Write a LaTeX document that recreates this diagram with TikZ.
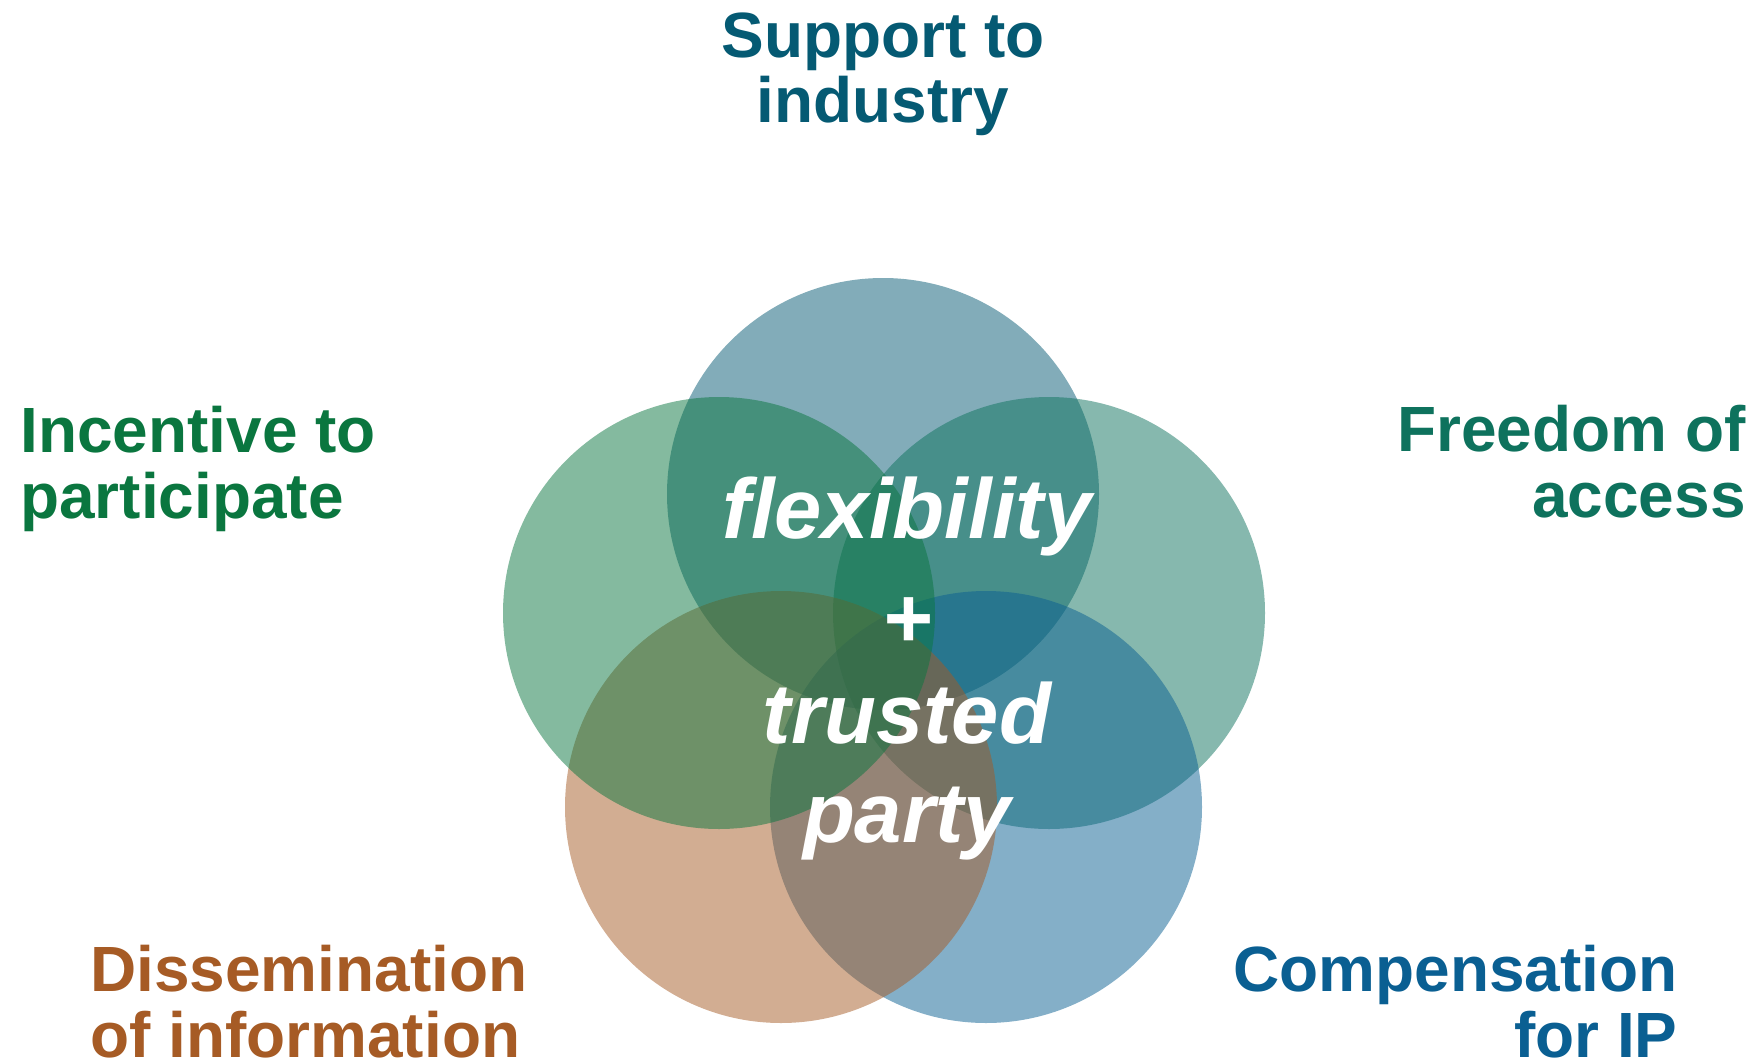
\documentclass[tikz,border=0pt]{standalone}
\usepackage{fontspec}
\setmainfont{Liberation Sans}
\usepackage{tikz}

\definecolor{supportc}{HTML}{055A73}
\definecolor{incentc}{HTML}{0A763F}
\definecolor{freedomc}{HTML}{0E725D}
\definecolor{dissemc}{HTML}{A65B25}
\definecolor{compc}{HTML}{0A5F92}

\tikzset{
  lbl/.style = {inner sep = 0, font = \fontsize{36.4}{37.3}\selectfont\bfseries},
  blob/.style = {fill opacity = 0.5}
}

\begin{document}
\begin{tikzpicture}[x = 0.02cm, y = -0.02cm]
\useasboundingbox (0, 0) rectangle (1764, 1061);
% circles
\fill[blob, supportc] (883, 494) circle (216);
\fill[blob, freedomc] (1049, 613) circle (216);
\fill[blob, compc] (986, 807) circle (216);
\fill[blob, dissemc] (781, 807) circle (216);
\fill[blob, incentc] (719, 613) circle (216);
% labels (base = last line)
\node[lbl, supportc, align = center, anchor = base] (support) at (883, 123) {Support to\\industry};
\node[lbl, incentc, align = left, anchor = base west] (incentive) at (20, 518) {Incentive to\\participate};
\node[lbl, freedomc, align = right, anchor = base east] (freedom) at (1746, 517) {Freedom of\\access};
\node[lbl, dissemc, align = left, anchor = base west] (dissem) at (90, 1057) {Dissemination\\of information};
\node[lbl, compc, align = right, anchor = base east] (comp) at (1678, 1057) {Compensation\\for IP};
\node[inner sep = 0, white, align = center, anchor = base, font = \fontsize{48.4}{57.1}\selectfont\bfseries\itshape] (centre) at (907, 842) {flexibility\\[5pt]+\\[-2.3pt]trusted\\[-1pt]party};
\end{tikzpicture}
\end{document}
